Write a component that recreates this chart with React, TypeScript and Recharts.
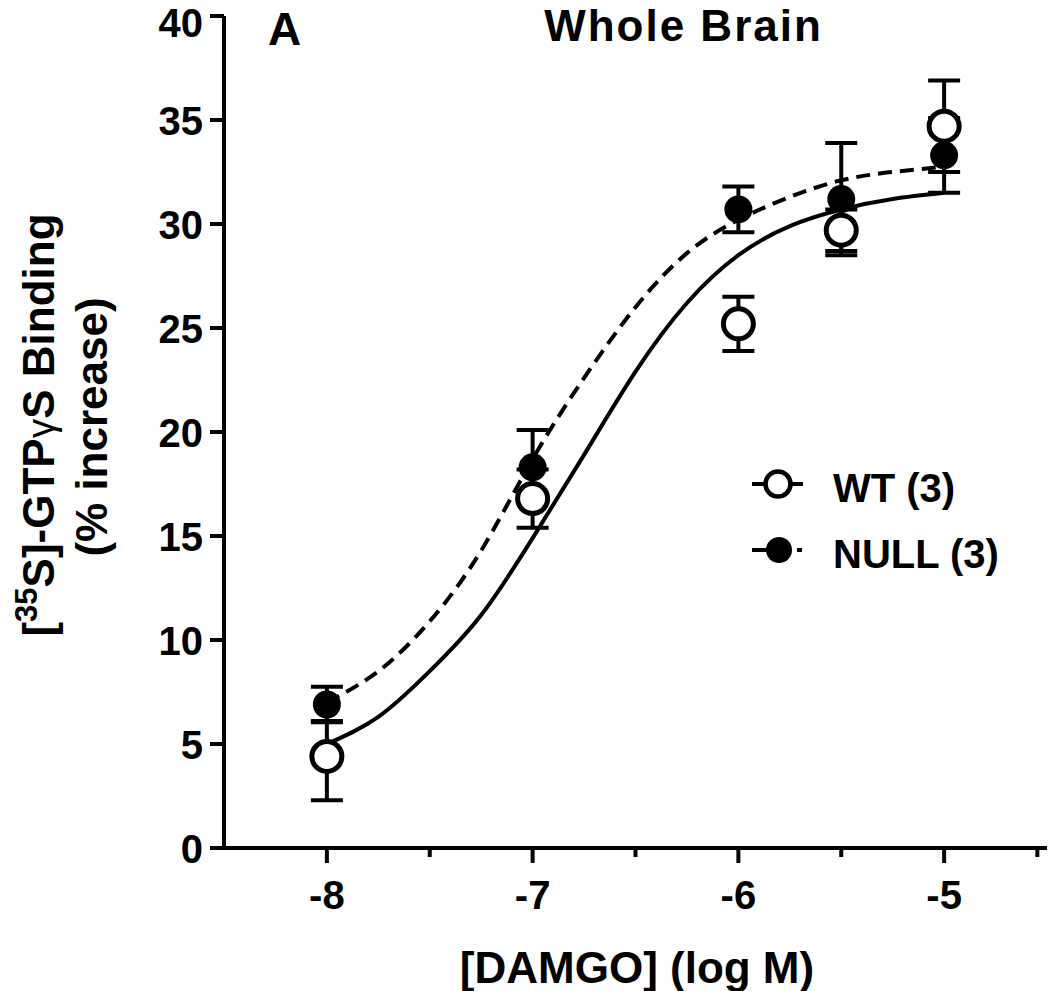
import React from 'react';
import { ComposedChart, Line, Scatter, XAxis, YAxis, ErrorBar, Legend } from 'recharts';

const FONT = '"Liberation Sans", Arial, Helvetica, sans-serif';

// measured points (log M)
const doses = [-8, -7, -6, -5.5, -5];
const wtMean = [4.4, 16.8, 25.2, 29.7, 34.7];
const wtErr = [[2.1, 1.7], [1.4, 1.4], [1.3, 1.3], [1.0, 1.0], [2.2, 2.2]];
const nullMean = [6.9, 18.3, 30.7, 31.2, 33.3];
const nullErr = [[0.85, 0.85], [1.5, 1.8], [1.1, 1.1], [2.7, 2.7], [1.8, 1.8]];

// fitted curves
const fitDoses = [-8, -7.75, -7.5, -7.25, -7, -6.75, -6.5, -6.25, -6, -5.75, -5.5, -5.25, -5];
const wtFit = [5.0, 6.3, 8.5, 11.2, 14.9, 18.9, 22.9, 26.2, 28.5, 29.9, 30.7, 31.2, 31.5];
const nullFit = [7.0, 8.5, 10.9, 14.3, 18.7, 22.6, 26.0, 28.6, 30.2, 31.3, 32.1, 32.5, 32.75];

const xTicks = [-8, -7.5, -7, -6.5, -6, -5.5, -5, -4.5];
const yTicks = [0, 5, 10, 15, 20, 25, 30, 35, 40];

const wtPoints = doses.map((x, i) => ({ x, y: wtMean[i], err: wtErr[i] }));
const nullPoints = doses.map((x, i) => ({ x, y: nullMean[i], err: nullErr[i] }));
const wtCurve = fitDoses.map((x, i) => ({ x, y: wtFit[i] }));
const nullCurve = fitDoses.map((x, i) => ({ x, y: nullFit[i] }));

const XTick = (props: any) => {
  const { x, y, payload } = props;
  const major = Number.isInteger(payload.value);
  return (
    <g>
      <line x1={x} x2={x} y1={y} y2={y + (major ? 15 : 9)} stroke="#000" strokeWidth={4} />
      {major && (
        <text x={x} y={y + 61} textAnchor="middle" fontSize={40} fontWeight="bold" fontFamily={FONT} fill="#000">
          {payload.value}
        </text>
      )}
    </g>
  );
};

const YTick = (props: any) => {
  const { x, y, payload } = props;
  return (
    <g>
      <line x1={x - 14} x2={x} y1={y} y2={y} stroke="#000" strokeWidth={4} />
      <text x={x - 21} y={Math.max(y + 15, 37)} textAnchor="end" fontSize={40} fontWeight="bold" fontFamily={FONT} fill="#000">
        {payload.value}
      </text>
    </g>
  );
};

const YLabel = () => (
  <g fontFamily={FONT} fontWeight="bold" fill="#000">
    <text transform="translate(54, 425) rotate(-90)" textAnchor="middle" fontSize={44}>
      [<tspan fontSize={31} dy={-17}>35</tspan>
      <tspan dy={17}>S]-GTP</tspan>
      <tspan fontWeight="normal" fontSize={39}>γ</tspan>
      <tspan>S Binding</tspan>
    </text>
    <text transform="translate(107, 427) rotate(-90)" textAnchor="middle" fontSize={44}>
      (% increase)
    </text>
  </g>
);

const XLabel = () => (
  <text x={637} y={983} textAnchor="middle" fontSize={44} fontWeight="bold" fontFamily={FONT} fill="#000">
    [DAMGO] (log M)
  </text>
);

const FilledDot = (props: any) => <circle cx={props.cx} cy={props.cy} r={14} fill="#000" />;
const OpenDot = (props: any) => (
  <circle cx={props.cx} cy={props.cy} r={15} fill="#fff" stroke="#000" strokeWidth={5} />
);
const NoDot = () => <g />;

const LegendBox = () => (
  <svg width={300} height={130} style={{ display: 'block' }}>
    <g fontFamily={FONT} fontWeight="bold" fontSize={40} fill="#000">
      <line x1={7} x2={58} y1={29} y2={29} stroke="#000" strokeWidth={4} />
      <circle cx={33} cy={29} r={12.5} fill="#fff" stroke="#000" strokeWidth={4.5} />
      <text x={88} y={47}>WT (3)</text>
      <line x1={7} x2={22} y1={95} y2={95} stroke="#000" strokeWidth={4} />
      <circle cx={34} cy={95} r={13} fill="#000" />
      <line x1={52} x2={57} y1={95} y2={95} stroke="#000" strokeWidth={4} />
      <text x={88} y={113}>NULL (3)</text>
    </g>
  </svg>
);

export default function App() {
  return (
    <div style={{ position: 'absolute', left: 0, top: 0, width: 1050, height: 991, background: '#fff' }}>
      <ComposedChart width={1050} height={991} margin={{ top: 16, right: 3, bottom: 0, left: 0 }}>
        <XAxis
          dataKey="x"
          type="number"
          domain={[-8.5, -4.5]}
          ticks={xTicks}
          height={143}
          tickSize={0}
          tickMargin={0}
          tickLine={false}
          tick={<XTick />}
          axisLine={{ stroke: '#000', strokeWidth: 4 }}
          allowDataOverflow
          label={{ content: () => <XLabel /> }}
        />
        <YAxis
          type="number"
          domain={[0, 40]}
          ticks={yTicks}
          width={224}
          tickSize={0}
          tickMargin={0}
          tickLine={false}
          tick={<YTick />}
          axisLine={{ stroke: '#000', strokeWidth: 4 }}
          label={{ content: () => <YLabel /> }}
        />
        <Legend
          layout="horizontal"
          verticalAlign="middle"
          align="center"
          content={() => <LegendBox />}
          wrapperStyle={{ position: 'absolute', left: 745, top: 455, width: 300 }}
        />
        <Line data={wtCurve} dataKey="y" type="natural" stroke="#000" strokeWidth={4} dot={false} isAnimationActive={false} legendType="none" />
        <Line data={nullCurve} dataKey="y" type="natural" stroke="#000" strokeWidth={4} strokeDasharray="14 8" dot={false} isAnimationActive={false} legendType="none" />
        <Scatter data={nullPoints} dataKey="y" shape={<FilledDot />} isAnimationActive={false} legendType="none" />
        <Scatter data={wtPoints} dataKey="y" shape={<OpenDot />} isAnimationActive={false} legendType="none">
          <ErrorBar dataKey="err" direction="y" width={16} stroke="#000" strokeWidth={4} isAnimationActive={false} />
        </Scatter>
        <Scatter data={nullPoints} dataKey="y" shape={<NoDot />} isAnimationActive={false} legendType="none">
          <ErrorBar dataKey="err" direction="y" width={16} stroke="#000" strokeWidth={4} isAnimationActive={false} />
        </Scatter>
      </ComposedChart>
      <div
        style={{
          position: 'absolute', left: 268, top: 6, fontFamily: FONT, fontWeight: 'bold', fontSize: 46, lineHeight: '46px',
        }}
      >
        A
      </div>
      <div
        style={{
          position: 'absolute', left: 537, top: 1, width: 293, textAlign: 'center', fontFamily: FONT, fontWeight: 'bold',
          fontSize: 44, lineHeight: 'normal', letterSpacing: 2, whiteSpace: 'nowrap',
        }}
      >
        Whole Brain
      </div>
    </div>
  );
}
